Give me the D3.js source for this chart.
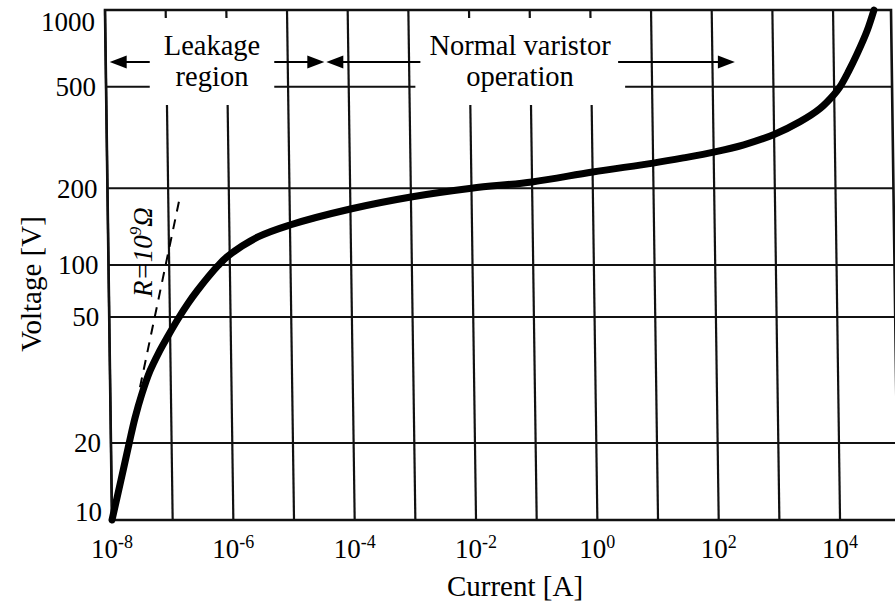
<!DOCTYPE html>
<html><head><meta charset="utf-8">
<script src="https://cdn.jsdelivr.net/npm/d3@7"></script>
<style>
body{margin:0;background:#fff;}
svg{display:block;font-family:"Liberation Serif","Times New Roman",serif;}
</style></head><body>
<svg id="chart" width="895" height="603"></svg>
<script>
// ---- data ----
const currentValues = [1e-8, 1.437e-8, 2.007e-8, 2.525e-8, 3.295e-8, 4.571e-8, 6.322e-8, 9.326e-8, 1.359e-7, 2.002e-7, 2.837e-7, 6.376e-7, 9.4e-7, 2.95e-6, 1e-5, 1e-4, 1e-3, 1e-2, 1e-1, 1, 10, 31.6, 100, 316, 1000, 2700, 5800, 9900, 1.25e4, 1.74e4, 2.43e4, 3.59e4, 4.73e4];
const voltageValues = [10, 14.33, 20.06, 23.99, 28.46, 33.77, 38.34, 43.71, 49.28, 59.85, 70.7, 99.1, 108.5, 128.8, 143.5, 165.8, 184.8, 200, 211.7, 231.6, 251, 263, 277, 296, 325, 365, 411, 466, 500, 574, 672, 827, 1000];
const gridExponents = [-8,-7,-6,-5,-4,-3,-2,-1,0,1,2,3,4];
const xTickExponents = [-8,-6,-4,-2,0,2,4];
const yTicks = [10,20,50,100,200,500,1000];
const yTickLabels = ["10","20","50","100","200","500","1000"];
const dashedCurrent = [3.1e-8, 1.56e-7];
const dashedVoltage = [30, 185];
const regionBounds = [1e-8, Math.pow(10,-4.38), Math.pow(10,2.37)];
const leakageLines = ["Leakage","region"];
const normalLines = ["Normal varistor","operation"];

// ---- layout ----
const M = {left:105, top:10};
const innerH = 510, innerW = 786, decadePx = 60.67;
const shear = 7/510;
const x = d3.scaleLog().domain([1e-8,1e4]).range([0, 12*decadePx]);
const y = d3.scaleLog().domain([10,20,50,100,1000]).range([innerH, 433, 307, 255, 0]);
const sx = (xi, yi) => M.left + xi + yi*shear;   // screen x of inner point
const svg = d3.select("#chart");
svg.append("rect").attr("width",895).attr("height",603).attr("fill","#fff");

const plot = svg.append("g")
  .attr("transform",`translate(${M.left},${M.top}) skewX(${Math.atan(shear)*180/Math.PI})`);

// grid
plot.selectAll("line.v").data(gridExponents).join("line")
  .attr("x1",e=>x(Math.pow(10,e))).attr("x2",e=>x(Math.pow(10,e)))
  .attr("y1",0).attr("y2",innerH).attr("stroke","#111").attr("stroke-width",2.2);
plot.selectAll("line.h").data(yTicks).join("line")
  .attr("x1",0).attr("x2",innerW)
  .attr("y1",d=>y(d)).attr("y2",d=>y(d)).attr("stroke","#111").attr("stroke-width",2.2);
plot.append("rect").attr("x",0).attr("y",0).attr("width",innerW).attr("height",innerH)
  .attr("fill","none").attr("stroke","#111").attr("stroke-width",2.6);

// curve
const pts = currentValues.map((c,i)=>[c, voltageValues[i]]);
plot.append("path").datum(pts)
  .attr("d", d3.line().x(d=>x(d[0])).y(d=>y(d[1])).curve(d3.curveCatmullRom.alpha(0.5)))
  .attr("fill","none").attr("stroke","#000").attr("stroke-width",7).attr("stroke-linecap","round");

// dashed R line
plot.append("path").datum(dashedCurrent.map((c,i)=>[c, dashedVoltage[i]]))
  .attr("d", d3.line().x(d=>x(d[0])).y(d=>y(d[1])))
  .attr("fill","none").attr("stroke","#000").attr("stroke-width",2).attr("stroke-dasharray","10,8");

// R label
const rl = svg.append("text")
  .attr("transform",`translate(152,252) rotate(-90)`)
  .attr("text-anchor","middle").attr("font-size",27).attr("font-style","italic").attr("fill","#000");
rl.append("tspan").text("R=10");
rl.append("tspan").attr("font-size",17).attr("dy",-11).text("9");
rl.append("tspan").attr("dy",11).text("Ω");

// y tick labels
yTicks.forEach((v,i)=>{
  const yi = y(v);
  const cy = Math.min(Math.max(M.top+yi, 22), 512);
  svg.append("text").attr("x", sx(0, yi) - 10).attr("y", cy).attr("dy","0.35em")
    .attr("text-anchor","end").attr("font-size",27).attr("fill","#000").text(yTickLabels[i]);
});

// x tick labels
xTickExponents.forEach(e=>{
  const t = svg.append("text").attr("x", sx(x(Math.pow(10,e)), innerH)).attr("y",558)
    .attr("text-anchor","middle").attr("font-size",27).attr("fill","#000");
  t.append("tspan").text("10");
  t.append("tspan").attr("font-size",18).attr("dy",-10).text(e<0 ? "-"+(-e) : String(e));
});

// axis titles
svg.append("text").attr("x",515).attr("y",596).attr("text-anchor","middle")
  .attr("font-size",29).attr("fill","#000").text("Current [A]");
svg.append("text").attr("transform","translate(41,284) rotate(-90)").attr("text-anchor","middle")
  .attr("font-size",29).attr("fill","#000").text("Voltage [V]");

// annotations
const ann = svg.append("g");
function block(lines, cx){
  const g = ann.append("g");
  const box = g.append("rect").attr("fill","#fff");
  const t1 = g.append("text").attr("x",cx).attr("y",55).attr("text-anchor","middle").attr("font-size",28.5).text(lines[0]);
  const t2 = g.append("text").attr("x",cx).attr("y",86).attr("text-anchor","middle").attr("font-size",28.5).text(lines[1]);
  const b1 = t1.node().getBBox(), b2 = t2.node().getBBox();
  const l = Math.min(b1.x,b2.x)-14, r = Math.max(b1.x+b1.width,b2.x+b2.width)+14;
  box.attr("x",l).attr("y",18).attr("width",r-l).attr("height",87);
  return {l, r, textR: Math.max(b1.x+b1.width,b2.x+b2.width)};
}
const ay = 62;
const b1 = block(leakageLines, 212);
const b2 = block(normalLines, 520);
function arrow(x0, x1){
  const dir = Math.sign(x1-x0);
  ann.append("line").attr("x1",x0).attr("x2",x1-dir*12).attr("y1",ay).attr("y2",ay)
    .attr("stroke","#000").attr("stroke-width",2);
  ann.append("path").attr("d",`M${x1},${ay}L${x1-dir*17},${ay-6.5}L${x1-dir*17},${ay+6.5}Z`).attr("fill","#000");
}
const bx = v => sx(x(v), ay-M.top);
arrow(b1.l, bx(regionBounds[0])+4);
arrow(b1.r, bx(regionBounds[1])-1);
arrow(b2.l+5, bx(regionBounds[1])+1);
arrow(b2.textR+7, bx(regionBounds[2]));
</script>
</body></html>
